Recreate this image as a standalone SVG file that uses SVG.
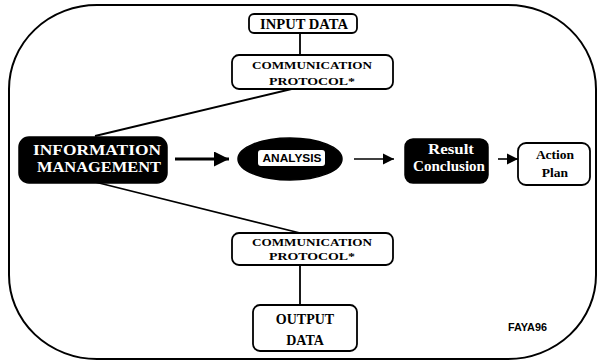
<svg xmlns="http://www.w3.org/2000/svg" width="597" height="362" viewBox="0 0 597 362">
<style>
.frame{fill:none;stroke:#000;stroke-width:2}
.box{fill:#fff;stroke:#000;stroke-width:1.8}
.dark{fill:#000;stroke:#000;stroke-width:1.5}
.ln{stroke:#000;stroke-width:1.8;fill:none}
.t{font-family:"Liberation Serif","Times New Roman",serif;font-weight:bold;text-anchor:middle;fill:#000}
.w{fill:#fff}
.s{font-family:"Liberation Sans",Arial,sans-serif;font-weight:bold;fill:#000}
</style>
<defs>
<marker id="ah" viewBox="0 0 10 10" refX="10" refY="5" markerWidth="5" markerHeight="5" orient="auto" markerUnits="strokeWidth">
<path d="M0,0 L10,5 L0,10 z" fill="#000"/>
</marker>
<marker id="ah2" viewBox="0 0 10 10" refX="10" refY="5" markerWidth="7" markerHeight="7" orient="auto" markerUnits="strokeWidth">
<path d="M0,0 L10,5 L0,10 z" fill="#000"/>
</marker>
</defs>
<rect width="597" height="362" fill="#fff"/>
<rect class="frame" x="9" y="5" width="587" height="354" rx="88" ry="84"/>

<g id="connectors">
<line class="ln" x1="300" y1="32" x2="300" y2="55"/>
<line class="ln" x1="300" y1="87" x2="95" y2="136"/>
<line class="ln" x1="95" y1="182" x2="300" y2="233"/>
<line class="ln" x1="300" y1="265" x2="300" y2="305"/>
<line x1="175" y1="159" x2="229" y2="159" stroke="#000" stroke-width="3" marker-end="url(#ah)"/>
<line x1="354" y1="159" x2="394" y2="159" stroke="#000" stroke-width="1.6" marker-end="url(#ah2)"/>
<line x1="498" y1="159" x2="518" y2="159" stroke="#000" stroke-width="1.6" marker-end="url(#ah2)"/>
</g>

<g id="input-data">
<rect class="box" x="249" y="14" width="108" height="19" rx="5"/>
<text class="t" x="304" y="29" font-size="14" textLength="88" lengthAdjust="spacingAndGlyphs">INPUT DATA</text>
</g>

<g id="protocol-top">
<rect class="box" x="232" y="55" width="161" height="34" rx="7"/>
<text class="t" x="312" y="69" font-size="10.5" textLength="120" lengthAdjust="spacingAndGlyphs">COMMUNICATION</text>
<text class="t" x="312" y="85" font-size="10.5" textLength="86" lengthAdjust="spacingAndGlyphs">PROTOCOL*</text>
</g>

<g id="information-management">
<rect class="dark" x="19" y="137" width="148" height="46" rx="10"/>
<text class="t w" x="97" y="155" font-size="15" textLength="128" lengthAdjust="spacingAndGlyphs">INFORMATION</text>
<text class="t w" x="99" y="172" font-size="15" textLength="124" lengthAdjust="spacingAndGlyphs">MANAGEMENT</text>
</g>

<g id="analysis">
<ellipse class="dark" cx="290" cy="159" rx="52" ry="21"/>
<rect x="258" y="150" width="67" height="16" rx="3" fill="#fff"/>
<text class="s" x="292" y="162" font-size="11" text-anchor="middle" textLength="59" lengthAdjust="spacingAndGlyphs">ANALYSIS</text>
</g>

<g id="result-conclusion">
<rect class="dark" x="405" y="139" width="83" height="44" rx="8"/>
<text class="t w" x="451" y="154" font-size="14" textLength="46" lengthAdjust="spacingAndGlyphs">Result</text>
<text class="t w" x="449" y="171" font-size="14" textLength="72" lengthAdjust="spacingAndGlyphs">Conclusion</text>
</g>

<g id="action-plan">
<rect class="box" x="518" y="143" width="72" height="42" rx="8"/>
<text class="t" x="555" y="159" font-size="13.5">Action</text>
<text class="t" x="555" y="177" font-size="13.5">Plan</text>
</g>

<g id="protocol-bottom">
<rect class="box" x="232" y="233" width="161" height="32" rx="7"/>
<text class="t" x="312" y="246" font-size="10.5" textLength="120" lengthAdjust="spacingAndGlyphs">COMMUNICATION</text>
<text class="t" x="312" y="260" font-size="10.5" textLength="86" lengthAdjust="spacingAndGlyphs">PROTOCOL*</text>
</g>

<g id="output-data">
<rect class="box" x="253" y="305" width="104" height="46" rx="7"/>
<text class="t" x="305" y="324" font-size="14">OUTPUT</text>
<text class="t" x="305" y="345" font-size="14">DATA</text>
</g>

<text class="s" x="508" y="331" font-size="10" textLength="39" lengthAdjust="spacingAndGlyphs">FAYA96</text>
</svg>
